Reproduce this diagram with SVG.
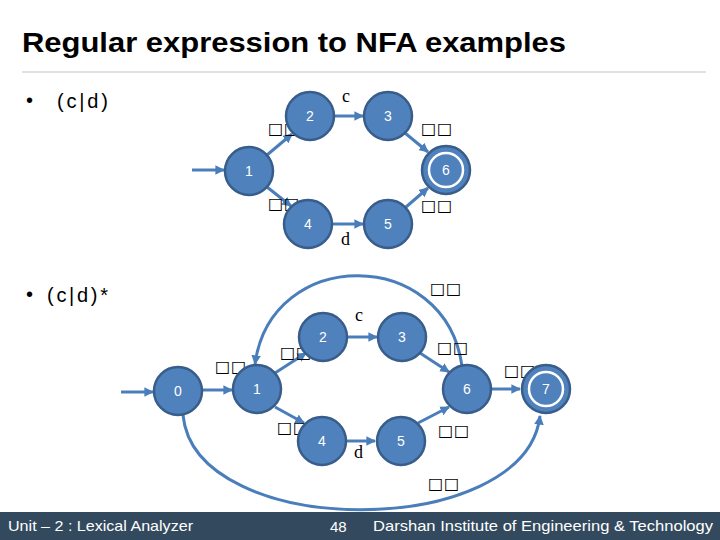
<svg xmlns="http://www.w3.org/2000/svg" width="720" height="540" viewBox="0 0 720 540">
<style>
.n{fill:#4F81BD;stroke:#385D8A;stroke-width:2.5}
.acc{fill:#4F81BD;stroke:#fff;stroke-width:2.5}
.nt{fill:#fff;font-family:"Liberation Sans",Arial,sans-serif;font-size:14px;text-anchor:middle}
.e{fill:none;stroke:#4A7EBB;stroke-width:3;marker-end:url(#ah)}
.lab{font-family:"Liberation Serif","Times New Roman",serif;font-size:18px;fill:#000}
.eps{font-family:"DejaVu Sans",sans-serif;font-size:16px;fill:#000;letter-spacing:1px}
.body{font-family:"Liberation Sans",Arial,sans-serif;font-size:20px;fill:#000}
.foot{font-family:"Liberation Sans",Arial,sans-serif;font-size:15px;fill:#fff}
</style>
<defs>
<marker id="ah" viewBox="0 0 10 10" refX="9" refY="5" markerWidth="3.2" markerHeight="3.2" orient="auto" markerUnits="strokeWidth">
<path d="M0,0 L10,5 L0,10 z" fill="#4A7EBB"/>
</marker>
</defs>
<rect width="720" height="540" fill="#fff"/>
<text x="22" y="52" font-family="Liberation Sans,Arial,sans-serif" font-weight="bold" font-size="28" textLength="544" lengthAdjust="spacingAndGlyphs">Regular expression to NFA examples</text>
<line x1="22" y1="72" x2="706" y2="72" stroke="#D9D9D9" stroke-width="1.5"/>
<text class="body" x="26" y="107">•</text>
<text class="body" x="57" y="108" textLength="51" lengthAdjust="spacing">(c|d)</text>
<text class="body" x="26" y="301">•</text>
<text class="body" x="47" y="302" textLength="61" lengthAdjust="spacing">(c|d)*</text>

<g id="connectors">
<line class="e" x1="192" y1="170" x2="224" y2="170"/>
<line class="e" x1="267" y1="155" x2="292" y2="134"/>
<line class="e" x1="334" y1="116" x2="363" y2="116"/>
<line class="e" x1="405" y1="133" x2="428" y2="152"/>
<line class="e" x1="267" y1="187" x2="291" y2="206"/>
<line class="e" x1="332" y1="224" x2="363" y2="224"/>
<line class="e" x1="406" y1="207" x2="428" y2="188"/>

<line class="e" x1="121" y1="392" x2="153" y2="392"/>
<line class="e" x1="202" y1="390" x2="232" y2="390"/>
<line class="e" x1="275" y1="373" x2="306" y2="353"/>
<line class="e" x1="347" y1="337" x2="377" y2="337"/>
<line class="e" x1="420" y1="353" x2="449" y2="372"/>
<line class="e" x1="275" y1="407" x2="304" y2="423"/>
<line class="e" x1="346" y1="441" x2="375" y2="441"/>
<line class="e" x1="418" y1="423" x2="449" y2="407"/>
<line class="e" x1="491" y1="389" x2="520" y2="389"/>
<path class="e" d="M462,366 C445,246 271,246 255,364"/>
<path class="e" d="M183,415 C195,541 525,541 540,416"/>
</g>

<g id="labels">
<text class="lab" x="342" y="102">c</text>
<text class="lab" x="341" y="245">d</text>
<text class="lab" x="355" y="321">c</text>
<text class="lab" x="354" y="458">d</text>
<text class="eps" x="268" y="134">□□</text>
<text class="eps" x="268" y="209">□□</text>
<text class="eps" x="421" y="134">□□</text>
<text class="eps" x="421" y="211">□□</text>
<text class="eps" x="215" y="372">□□</text>
<text class="eps" x="280" y="358">□□</text>
<text class="eps" x="277" y="433">□□</text>
<text class="eps" x="430" y="294">□□</text>
<text class="eps" x="437" y="353">□□</text>
<text class="eps" x="438" y="436">□□</text>
<text class="eps" x="504" y="376">□□</text>
<text class="eps" x="428" y="489">□□</text>
</g>

<g id="t1"><circle class="n" cx="249" cy="171" r="24"/><text class="nt" x="249" y="176">1</text></g>
<g id="t2"><circle class="n" cx="310" cy="116" r="24"/><text class="nt" x="310" y="121">2</text></g>
<g id="t3"><circle class="n" cx="388" cy="116" r="24"/><text class="nt" x="388" y="121">3</text></g>
<g id="t4"><circle class="n" cx="308" cy="224" r="24"/><text class="nt" x="308" y="229">4</text></g>
<g id="t5"><circle class="n" cx="388" cy="224" r="24"/><text class="nt" x="388" y="229">5</text></g>
<g id="t6"><circle class="n" cx="446" cy="170" r="24"/><circle class="acc" cx="446" cy="170" r="17"/><text class="nt" x="446" y="175">6</text></g>

<g id="b0"><circle class="n" cx="178" cy="391" r="24"/><text class="nt" x="178" y="396">0</text></g>
<g id="b1"><circle class="n" cx="257" cy="389" r="24"/><text class="nt" x="257" y="394">1</text></g>
<g id="b2"><circle class="n" cx="323" cy="337" r="24"/><text class="nt" x="323" y="342">2</text></g>
<g id="b3"><circle class="n" cx="402" cy="337" r="24"/><text class="nt" x="402" y="342">3</text></g>
<g id="b4"><circle class="n" cx="322" cy="441" r="24"/><text class="nt" x="322" y="446">4</text></g>
<g id="b5"><circle class="n" cx="401" cy="441" r="24"/><text class="nt" x="401" y="446">5</text></g>
<g id="b6"><circle class="n" cx="467" cy="389" r="24"/><text class="nt" x="467" y="394">6</text></g>
<g id="b7"><circle class="n" cx="546" cy="389" r="24"/><circle class="acc" cx="546" cy="389" r="17"/><text class="nt" x="546" y="394">7</text></g>

<g id="footer">
<rect x="0" y="512" width="720" height="28" fill="#334A5E"/>
<text class="foot" x="8" y="531" textLength="185" lengthAdjust="spacingAndGlyphs">Unit – 2 : Lexical Analyzer</text>
<text class="foot" x="330" y="532" font-size="16">48</text>
<text class="foot" x="373" y="531" textLength="340" lengthAdjust="spacingAndGlyphs">Darshan Institute of Engineering &amp; Technology</text>
</g>
</svg>
